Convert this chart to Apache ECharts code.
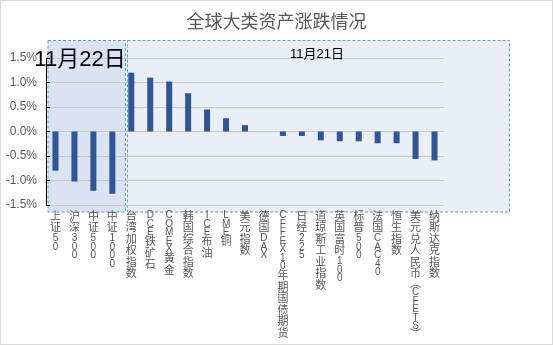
<!DOCTYPE html>
<html>
<head>
<meta charset="utf-8">
<script src="https://cdn.jsdelivr.net/npm/echarts@6/dist/echarts.min.js"></script>
<style>
html,body{margin:0;padding:0;background:#fff;}
#chart{width:553px;height:345px;box-sizing:border-box;border:1px solid #d9d9d9;}
</style>
</head>
<body>
<div id="chart"></div>
<script>
var title = '全球大类资产涨跌情况';
var categories = ['上证50','沪深300','中证500','中证1000','台湾加权指数','DCE铁矿石','COMEX黄金','韩国综合指数','ICE布油','LME铜','美元指数','德国DAX','CFFEX10年期国债期货','日经225','道琼斯工业指数','英国富时100','标普500','法国CAC40','恒生指数','美元兑人民币（CFETS）','纳斯达克指数'];
var values = [-0.80,-1.02,-1.21,-1.27,1.20,1.10,1.02,0.78,0.45,0.27,0.13,0.00,-0.09,-0.09,-0.18,-0.20,-0.20,-0.24,-0.24,-0.56,-0.59];
var yMin = -1.5, yMax = 1.5, yStep = 0.5;
var noteLeft = '11月22日';
var noteRight = '11月21日';

var FONT = '"Liberation Sans", "Noto Sans CJK SC", sans-serif';

function verticalLabel(name) {
  if (!name) return '';
  var out = [];
  for (var i = 0; i < name.length; i++) {
    var ch = name[i];
    if (ch === ' ') continue;
    if (ch === '（') { out.push('{p|︵}'); continue; }
    if (ch === '）') { out.push('{p|︶}'); continue; }
    if (/[\x00-\x7F]/.test(ch)) out.push('{l|' + ch + '}');
    else out.push('{c|' + ch + '}');
  }
  return out.join('\n');
}

var chart = echarts.init(document.getElementById('chart'), null, {renderer: 'canvas'});
chart.setOption({
  animation: false,
  backgroundColor: '#ffffff',
  title: {
    text: title,
    left: 'center',
    top: 8,
    textStyle: {fontFamily: FONT, fontSize: 18, fontWeight: 'normal', color: '#595959'}
  },
  grid: {left: 45, right: 108, top: 57, bottom: 139, containLabel: false},
  graphic: [
    {type: 'rect', z: -10, silent: true, shape: {x: 47, y: 39.5, width: 77.5, height: 171.5},
     style: {fill: '#dae3f3', stroke: '#5b9bd5', lineWidth: 1, lineDash: [3, 2]}},
    {type: 'rect', z: -10, silent: true, shape: {x: 126.5, y: 39.5, width: 382, height: 171.5},
     style: {fill: '#e9eef7', stroke: '#5b9bd5', lineWidth: 1, lineDash: [3, 2]}},
    {type: 'text', z: 10, silent: true, x: 79, y: 59,
     style: {text: noteLeft, fontFamily: FONT, fontSize: 22, fill: '#000000', align: 'center', verticalAlign: 'middle'}},
    {type: 'text', z: 10, silent: true, x: 316, y: 53,
     style: {text: noteRight, fontFamily: FONT, fontSize: 13, fill: '#000000', align: 'center', verticalAlign: 'middle'}}
  ],
  xAxis: {
    type: 'category',
    data: categories,
    axisLine: {show: false, onZero: false},
    axisTick: {show: false},
    splitLine: {show: false},
    axisLabel: {
      interval: 0,
      margin: 6,
      color: '#595959',
      verticalAlign: 'top',
      formatter: function (v) { return verticalLabel(v); },
      rich: {
        c: {fontFamily: FONT, fontSize: 11, lineHeight: 11.5, color: '#595959'},
        l: {fontFamily: FONT, fontSize: 10, lineHeight: 8.5, color: '#595959'},
        p: {fontFamily: FONT, fontSize: 11, lineHeight: 8, color: '#595959'}
      }
    }
  },
  yAxis: {
    type: 'value',
    min: yMin,
    max: yMax,
    interval: yStep,
    axisLine: {show: true, lineStyle: {color: '#000000', width: 1}},
    axisTick: {show: true, inside: true, length: 4, lineStyle: {color: '#000000'}},
    splitLine: {show: true, lineStyle: {color: '#c8c8c8', width: 1}},
    axisLabel: {
      margin: 9,
      fontFamily: FONT,
      fontSize: 12,
      color: '#595959',
      formatter: function (v) { return v.toFixed(1) + '%'; }
    }
  },
  series: [{
    type: 'bar',
    data: values,
    barWidth: 6,
    itemStyle: {color: '#2f5597'}
  }]
});
</script>
</body>
</html>
